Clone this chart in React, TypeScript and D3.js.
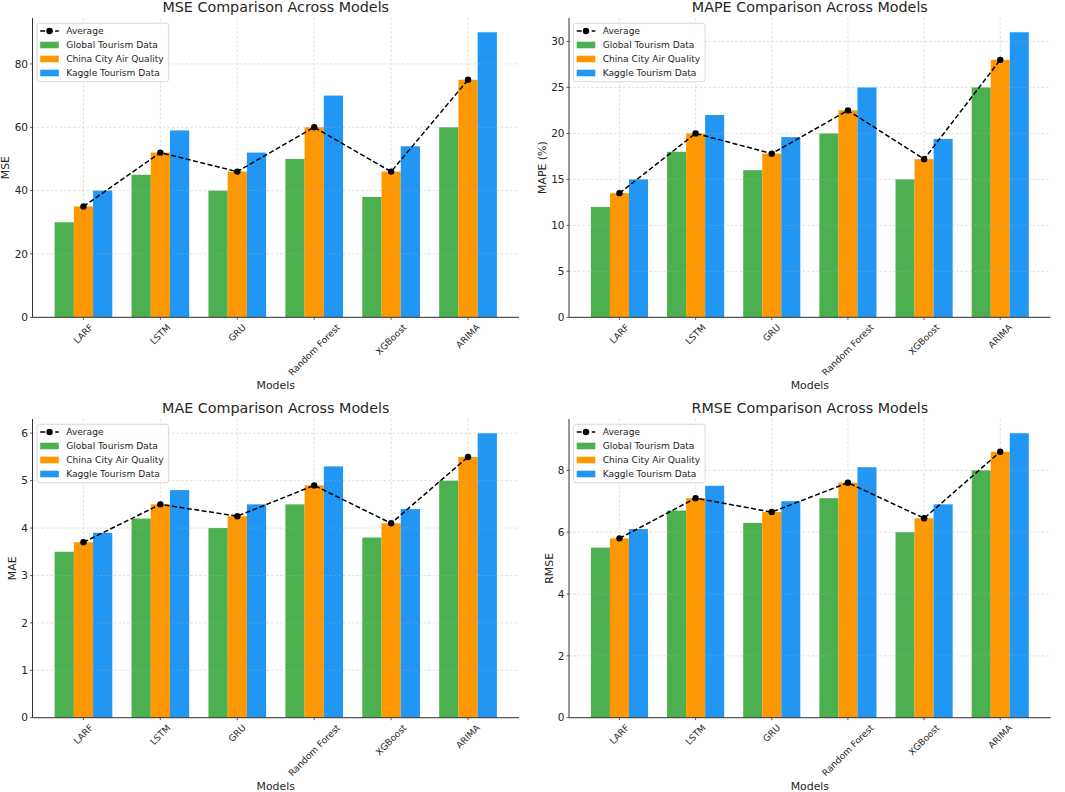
import { useEffect, useRef } from "react";
import * as d3 from "d3";

// ── Data ──────────────────────────────────────────────────────────────────────
const MODELS = ["LARF", "LSTM", "GRU", "Random Forest", "XGBoost", "ARIMA"];
const SERIES_NAMES = ["Global Tourism Data", "China City Air Quality", "Kaggle Tourism Data"];
const SERIES_COLORS = ["#4CAF50", "#FF9800", "#2196F3"];

const MSE_GLOBAL = [30, 45, 40, 50, 38, 60];
const MSE_CHINA = [35, 52, 46, 60, 46, 75];
const MSE_KAGGLE = [40, 59, 52, 70, 54, 90];
const MSE_AVG = [35, 52, 46, 60, 46, 75];
const MSE_TICKS = [0, 20, 40, 60, 80];

const MAPE_GLOBAL = [12, 18, 16, 20, 15, 25];
const MAPE_CHINA = [13.5, 20, 17.8, 22.5, 17.2, 28];
const MAPE_KAGGLE = [15, 22, 19.6, 25, 19.4, 31];
const MAPE_AVG = [13.5, 20, 17.8, 22.5, 17.2, 28];
const MAPE_TICKS = [0, 5, 10, 15, 20, 25, 30];

const MAE_GLOBAL = [3.5, 4.2, 4.0, 4.5, 3.8, 5.0];
const MAE_CHINA = [3.7, 4.5, 4.25, 4.9, 4.1, 5.5];
const MAE_KAGGLE = [3.9, 4.8, 4.5, 5.3, 4.4, 6.0];
const MAE_AVG = [3.7, 4.5, 4.25, 4.9, 4.1, 5.5];
const MAE_TICKS = [0, 1, 2, 3, 4, 5, 6];

const RMSE_GLOBAL = [5.5, 6.7, 6.3, 7.1, 6.0, 8.0];
const RMSE_CHINA = [5.8, 7.1, 6.65, 7.6, 6.45, 8.6];
const RMSE_KAGGLE = [6.1, 7.5, 7.0, 8.1, 6.9, 9.2];
const RMSE_AVG = [5.8, 7.1, 6.65, 7.6, 6.45, 8.6];
const RMSE_TICKS = [0, 2, 4, 6, 8];

// ── Layout ────────────────────────────────────────────────────────────────────
const W = 1065;
const H = 792;
const FONT = "DejaVu Sans, sans-serif";
const INK = "#262626";

interface Panel {
  title: string;
  ylabel: string;
  series: number[][];
  avg: number[];
  ticks: number[];
  box: { left: number; right: number; top: number; bottom: number };
  ylabelOffset: number;
}

const PANELS: Panel[] = [
  {
    title: "MSE Comparison Across Models", ylabel: "MSE",
    series: [MSE_GLOBAL, MSE_CHINA, MSE_KAGGLE], avg: MSE_AVG, ticks: MSE_TICKS,
    box: { left: 32.5, right: 519, top: 18, bottom: 317.3 }, ylabelOffset: 27,
  },
  {
    title: "MAPE Comparison Across Models", ylabel: "MAPE (%)",
    series: [MAPE_GLOBAL, MAPE_CHINA, MAPE_KAGGLE], avg: MAPE_AVG, ticks: MAPE_TICKS,
    box: { left: 569, right: 1050.7, top: 18, bottom: 317.3 }, ylabelOffset: 27,
  },
  {
    title: "MAE Comparison Across Models", ylabel: "MAE",
    series: [MAE_GLOBAL, MAE_CHINA, MAE_KAGGLE], avg: MAE_AVG, ticks: MAE_TICKS,
    box: { left: 32.5, right: 519, top: 419, bottom: 717.7 }, ylabelOffset: 20,
  },
  {
    title: "RMSE Comparison Across Models", ylabel: "RMSE",
    series: [RMSE_GLOBAL, RMSE_CHINA, RMSE_KAGGLE], avg: RMSE_AVG, ticks: RMSE_TICKS,
    box: { left: 569, right: 1050.7, top: 419, bottom: 717.7 }, ylabelOffset: 20,
  },
];

const BAR_W = 0.25;

export default function App() {
  const svgRef = useRef<SVGSVGElement>(null);

  useEffect(() => {
    document.body.style.margin = "0";
    if (!svgRef.current) return;
    const svg = d3.select(svgRef.current);
    svg.selectAll("*").remove();

    PANELS.forEach((p) => {
      const { left, right, top, bottom } = p.box;
      const g = svg.append("g");

      const n = MODELS.length;
      const pad = (n - 1 + 2 * 1.5 * BAR_W) * 0.05 + 1.5 * BAR_W;
      const x = d3.scaleLinear().domain([-pad, n - 1 + pad]).range([left, right]);
      const ymax = d3.max(p.series.flat()) ?? 1;
      const y = d3.scaleLinear().domain([0, ymax * 1.05]).range([bottom, top]);

      // ── Bars ──────────────────────────────────────────────────────
      p.series.forEach((vals, k) => {
        g.append("g")
          .selectAll("rect")
          .data(vals)
          .join("rect")
          .attr("x", (_, i) => x(i + (k - 1) * BAR_W - BAR_W / 2))
          .attr("width", x(BAR_W) - x(0))
          .attr("y", (d) => y(d))
          .attr("height", (d) => y(0) - y(d))
          .attr("fill", SERIES_COLORS[k]);
      });

      // ── Grid (over bars, faint) ───────────────────────────────────
      const grid = g.append("g")
        .attr("stroke", "#b0b0b0")
        .attr("stroke-width", 0.7)
        .attr("stroke-dasharray", "2.5 2")
        .attr("opacity", 0.55);
      p.ticks.forEach((t) => {
        grid.append("line")
          .attr("x1", left).attr("x2", right)
          .attr("y1", y(t)).attr("y2", y(t));
      });
      MODELS.forEach((_, i) => {
        grid.append("line")
          .attr("x1", x(i)).attr("x2", x(i))
          .attr("y1", top).attr("y2", bottom);
      });

      // ── Average line ──────────────────────────────────────────────
      const line = d3.line<number>()
        .x((_, i) => x(i))
        .y((d) => y(d));
      g.append("path")
        .datum(p.avg)
        .attr("d", line)
        .attr("fill", "none")
        .attr("stroke", "#000")
        .attr("stroke-width", 1.5)
        .attr("stroke-dasharray", "5 2.5");
      g.append("g")
        .selectAll("circle")
        .data(p.avg)
        .join("circle")
        .attr("cx", (_, i) => x(i))
        .attr("cy", (d) => y(d))
        .attr("r", 3.2)
        .attr("fill", "#000");

      // ── Spines + ticks ────────────────────────────────────────────
      g.append("line")
        .attr("x1", left).attr("x2", left).attr("y1", top).attr("y2", bottom)
        .attr("stroke", "#333").attr("stroke-width", 1);
      g.append("line")
        .attr("x1", left).attr("x2", right).attr("y1", bottom).attr("y2", bottom)
        .attr("stroke", "#333").attr("stroke-width", 1);

      p.ticks.forEach((t) => {
        g.append("line")
          .attr("x1", left - 2.5).attr("x2", left)
          .attr("y1", y(t)).attr("y2", y(t))
          .attr("stroke", "#333").attr("stroke-width", 0.8);
        g.append("text")
          .attr("x", left - 4.5)
          .attr("y", y(t))
          .attr("dy", "0.36em")
          .attr("text-anchor", "end")
          .attr("font-family", FONT)
          .attr("font-size", 10.5)
          .attr("fill", INK)
          .text(String(t));
      });

      MODELS.forEach((m, i) => {
        g.append("line")
          .attr("x1", x(i)).attr("x2", x(i))
          .attr("y1", bottom).attr("y2", bottom + 2.5)
          .attr("stroke", "#333").attr("stroke-width", 0.8);
        const fs = 9.1;
        const t = g.append("text")
          .attr("text-anchor", "middle")
          .attr("dominant-baseline", "central")
          .attr("font-family", FONT)
          .attr("font-size", fs)
          .attr("fill", INK)
          .text(m);
        const w = (t.node() as SVGTextElement).getComputedTextLength();
        const h = fs * 1.1;
        const half = (w + h) / (2 * Math.SQRT2);
        t.attr("transform", `translate(${x(i)},${bottom + 5 + half}) rotate(-45)`);
      });

      // ── Labels ────────────────────────────────────────────────────
      g.append("text")
        .attr("x", (left + right) / 2)
        .attr("y", top - 6)
        .attr("text-anchor", "middle")
        .attr("font-family", FONT)
        .attr("font-size", 14.3)
        .attr("fill", INK)
        .text(p.title);

      g.append("text")
        .attr("x", (left + right) / 2)
        .attr("y", bottom + 72)
        .attr("text-anchor", "middle")
        .attr("font-family", FONT)
        .attr("font-size", 10.9)
        .attr("fill", INK)
        .text("Models");

      g.append("text")
        .attr("transform", `translate(${left - p.ylabelOffset},${(top + bottom) / 2}) rotate(-90)`)
        .attr("dy", "0.36em")
        .attr("text-anchor", "middle")
        .attr("font-family", FONT)
        .attr("font-size", 10.9)
        .attr("fill", INK)
        .text(p.ylabel);

      // ── Legend ────────────────────────────────────────────────────
      const lg = g.append("g").attr("transform", `translate(${left + 4.5},${top + 5.3})`);
      const frame = lg.append("rect")
        .attr("width", 134)
        .attr("height", 58.4)
        .attr("rx", 2.5)
        .attr("fill", "#fff")
        .attr("fill-opacity", 0.85)
        .attr("stroke", "#d0d0d0")
        .attr("stroke-width", 0.8);

      const rowY = (r: number) => 7.7 + r * 14;
      // Average entry
      lg.append("line")
        .attr("x1", 3.2).attr("x2", 21.8)
        .attr("y1", rowY(0)).attr("y2", rowY(0))
        .attr("stroke", "#000").attr("stroke-width", 1.5)
        .attr("stroke-dasharray", "5 2.5");
      lg.append("circle")
        .attr("cx", 12.5).attr("cy", rowY(0)).attr("r", 3.2).attr("fill", "#000");
      const labels = ["Average", ...SERIES_NAMES];
      let maxW = 0;
      labels.forEach((lab, r) => {
        if (r > 0) {
          lg.append("rect")
            .attr("x", 3.2).attr("y", rowY(r) - 3.3)
            .attr("width", 18.6).attr("height", 6.6)
            .attr("fill", SERIES_COLORS[r - 1]);
        }
        const t = lg.append("text")
          .attr("x", 29.2)
          .attr("y", rowY(r))
          .attr("dy", "0.36em")
          .attr("font-family", FONT)
          .attr("font-size", 9.1)
          .attr("fill", INK)
          .text(lab);
        maxW = Math.max(maxW, (t.node() as SVGTextElement).getComputedTextLength());
      });
      frame.attr("width", 29.2 + maxW + 5);
    });
  }, []);

  return (
    <svg
      ref={svgRef}
      width={W}
      height={H}
      viewBox={`0 0 ${W} ${H}`}
      style={{ display: "block", background: "#fff" }}
    />
  );
}
